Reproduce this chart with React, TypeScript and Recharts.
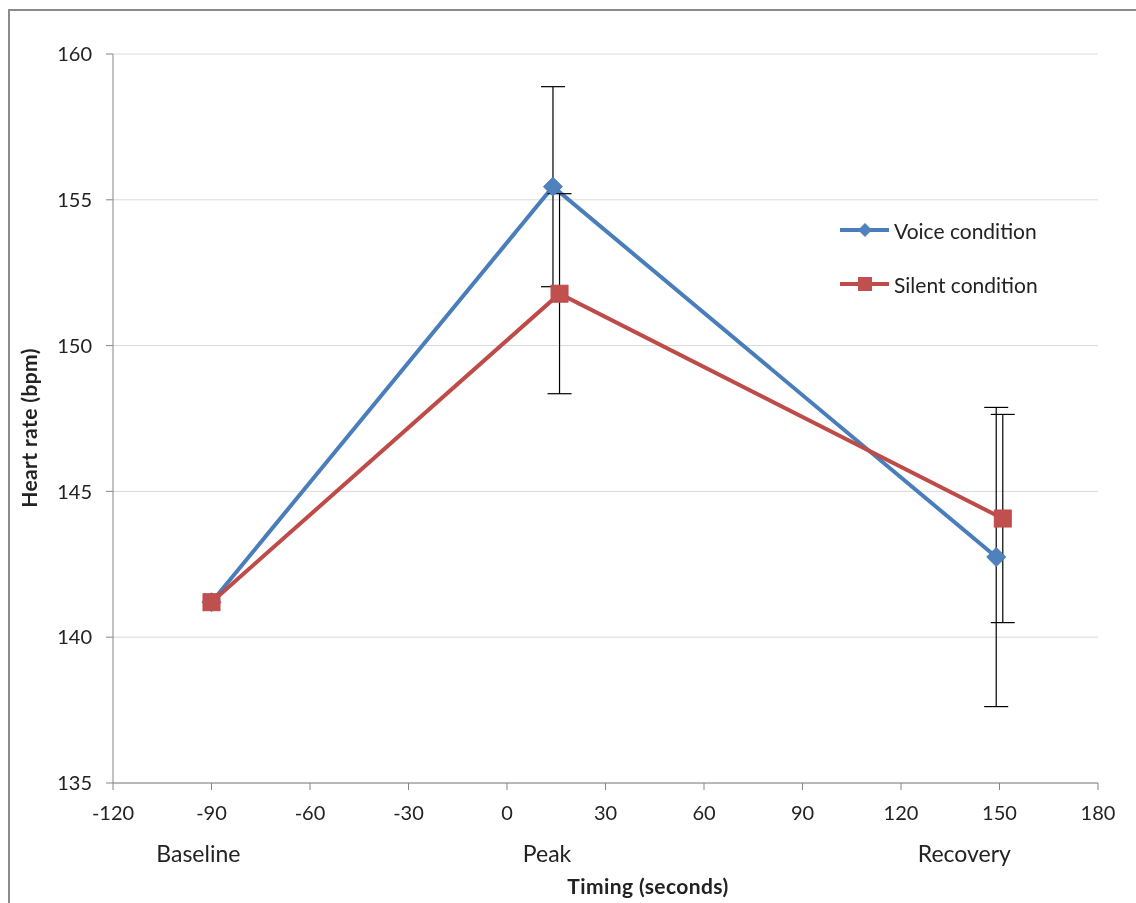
import React from 'react';
import {
  LineChart,
  Line,
  XAxis,
  YAxis,
  CartesianGrid,
  ErrorBar,
  Legend,
  ReferenceDot
} from 'recharts';

// Timing (s) and heart rate (bpm)
const voiceTime = [-90, 14, 149];
const voiceRate = [141.2, 155.45, 142.75];
const voiceErr = [null, 3.43, 5.13];

const silentTime = [-90, 16, 151];
const silentRate = [141.2, 151.78, 144.07];
const silentErr = [null, 3.43, 3.57];

const xTicks = [-120, -90, -60, -30, 0, 30, 60, 90, 120, 150, 180];
const yTicks = [135, 140, 145, 150, 155, 160];

// phase names sit under the axis, roughly under each group of points
const phaseLabels = ['Baseline', 'Peak', 'Recovery'];
const phaseLabelAt = [-94, 12.2, 139.3];

const BLUE = '#4A7EBB';
const BLUE_MARK = '#4F81BD';
const RED = '#BE4B48';
const RED_MARK = '#C0504D';
const AXIS = '#868686';
const TEXT = '#222222';

const voiceData = voiceTime.map((t, i) => ({ t, hr: voiceRate[i], err: voiceErr[i] }));
const silentData = silentTime.map((t, i) => ({ t, hr: silentRate[i], err: silentErr[i] }));

const Diamond = (props: any) => {
  const { cx, cy, index } = props;
  if (cx == null || cy == null) return <g key={`d-${index}`} />;
  const r = 9.5;
  return (
    <path
      key={`d-${index}`}
      d={`M${cx},${cy - r} L${cx + r},${cy} L${cx},${cy + r} L${cx - r},${cy} Z`}
      fill={BLUE_MARK}
      stroke={BLUE}
      strokeWidth={1}
    />
  );
};

const Square = (props: any) => {
  const { cx, cy, index } = props;
  if (cx == null || cy == null) return <g key={`s-${index}`} />;
  const h = 8.5;
  return (
    <rect
      key={`s-${index}`}
      x={cx - h}
      y={cy - h}
      width={h * 2}
      height={h * 2}
      fill={RED_MARK}
      stroke={RED}
      strokeWidth={1}
    />
  );
};

const legendRows = [
  { name: 'Voice condition', color: BLUE, mark: 'diamond' },
  { name: 'Silent condition', color: RED, mark: 'square' }
];

const renderLegend = () => (
  <div style={{ fontFamily: 'Lato', fontSize: 21, color: TEXT }}>
    {legendRows.map((row) => (
      <div key={row.name} style={{ display: 'flex', alignItems: 'center', height: 54 }}>
        <svg width={52} height={22} style={{ marginRight: 2 }}>
          <line x1={0} y1={11} x2={49} y2={11} stroke={row.color} strokeWidth={4} />
          {row.mark === 'diamond' ? (
            <path d="M25,4 L32,11 L25,18 L18,11 Z" fill={BLUE_MARK} />
          ) : (
            <rect x={18} y={4} width={14} height={14} fill={RED_MARK} />
          )}
        </svg>
        <span>{row.name}</span>
      </div>
    ))}
  </div>
);

export default function App() {
  return (
    <div style={{ position: 'relative', width: 1128, height: 895, fontFamily: 'Lato' }}>
      {/* chart frame: only the left and top edges show in the picture */}
      <div
        style={{
          position: 'fixed',
          left: 8,
          top: 9,
          width: 1140,
          height: 900,
          borderLeft: '2px solid #8a8a8a',
          borderTop: '2px solid #8a8a8a',
          pointerEvents: 'none'
        }}
      />
      <LineChart width={1128} height={895} margin={{ top: 46, right: 38, left: 0, bottom: 0 }}>
        <CartesianGrid horizontal vertical={false} stroke="#D9D9D9" strokeWidth={1} />
        <XAxis
          dataKey="t"
          type="number"
          domain={[-120, 180]}
          ticks={xTicks}
          interval={0}
          height={120}
          tickSize={7}
          tickMargin={16}
          stroke={AXIS}
          tick={{ fill: TEXT, fontSize: 20, fontFamily: 'Lato' }}
          allowDuplicatedCategory={false}
          label={() => (
            <text
              x={640}
              y={886}
              textAnchor="middle"
              fill={TEXT}
              fontSize={21}
              fontWeight="bold"
              fontFamily="Lato"
              letterSpacing={0.4}
            >
              Timing (seconds)
            </text>
          )}
        />
        <YAxis
          type="number"
          domain={[135, 160]}
          ticks={yTicks}
          interval={0}
          width={105}
          tickSize={7}
          tickMargin={14}
          stroke={AXIS}
          tick={{ fill: TEXT, fontSize: 20, fontFamily: 'Lato' }}
          label={() => (
            <text
              x={20}
              y={420}
              transform="rotate(-90 20 420)"
              textAnchor="middle"
              dominantBaseline="central"
              fill={TEXT}
              fontSize={21}
              fontWeight="bold"
              fontFamily="Lato"
              letterSpacing={0.4}
            >
              Heart rate (bpm)
            </text>
          )}
        />
        <Legend
          layout="horizontal"
          verticalAlign="middle"
          align="center"
          content={renderLegend}
          wrapperStyle={{ position: 'absolute', left: 832, top: 195, width: 270 }}
        />
        {phaseLabels.map((name, i) => (
          <ReferenceDot
            key={name}
            x={phaseLabelAt[i]}
            y={135}
            r={0}
            fill="none"
            stroke="none"
            ifOverflow="visible"
            label={{
              value: name,
              position: 'bottom',
              offset: 63,
              fill: TEXT,
              fontSize: 23,
              fontFamily: 'Lato'
            }}
          />
        ))}
        <Line
          data={voiceData}
          dataKey="hr"
          name="Voice condition"
          stroke={BLUE}
          strokeWidth={4}
          dot={Diamond}
          activeDot={false}
          isAnimationActive={false}
        >
          <ErrorBar dataKey="err" direction="y" width={12} stroke="#000" strokeWidth={1.2} />
        </Line>
        <Line
          data={silentData}
          dataKey="hr"
          name="Silent condition"
          stroke={RED}
          strokeWidth={4}
          dot={Square}
          activeDot={false}
          isAnimationActive={false}
        >
          <ErrorBar dataKey="err" direction="y" width={12} stroke="#000" strokeWidth={1.2} />
        </Line>
      </LineChart>
    </div>
  );
}
